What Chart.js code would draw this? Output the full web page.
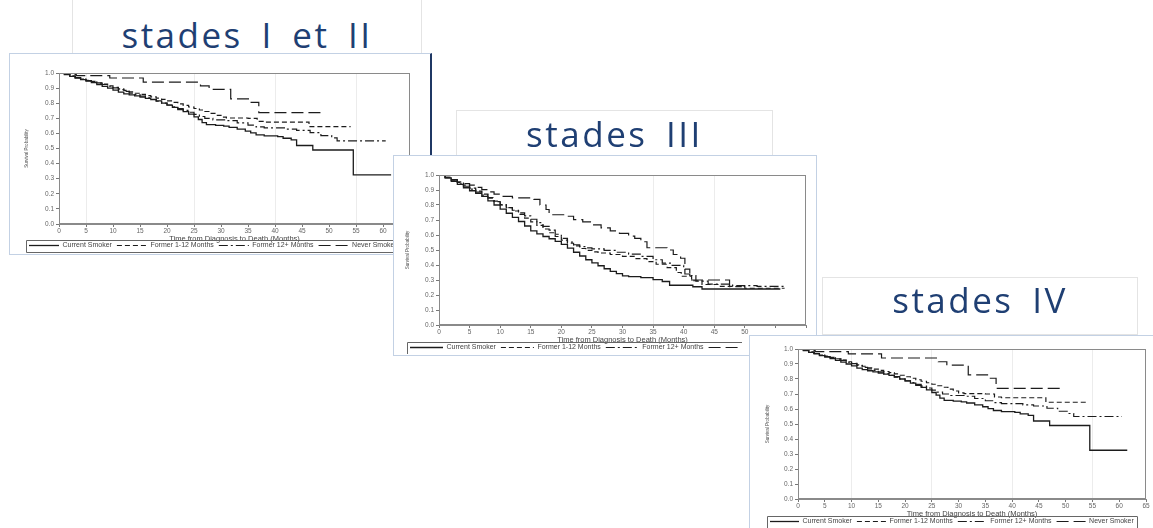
<!DOCTYPE html>
<html>
<head>
<meta charset="utf-8">
<script src="https://cdn.jsdelivr.net/npm/chart.js@4.4.1/dist/chart.umd.min.js"></script>
<style>
  html, body { margin: 0; padding: 0; background: #fff; }
  body { position: relative; width: 1153px; height: 528px; overflow: hidden; }
  .tbox { position: absolute; background: #fff; border: 1px solid #e4e4e4; box-sizing: border-box; }
  .ttl { position: absolute; text-align: center; font-family: "Open Sans", sans-serif; font-size: 35px;
         line-height: 35px; color: #1f3f73; letter-spacing: 2.5px; word-spacing: 7px; white-space: nowrap; }
  .cbox { position: absolute; background: #fff; border: 1px solid #c3d1e4; box-sizing: border-box; }
  canvas { position: absolute; }
</style>
</head>
<body>
<div class="tbox" style="left:72px;top:-2px;width:350px;height:56px"></div>
<div class="ttl" style="left:72px;width:350px;top:17px">stades I et II</div>
<div class="cbox" style="left:9px;top:53px;width:423px;height:202px;border-right:2px solid #1f3864"></div>
<canvas id="c1"></canvas>

<div class="tbox" style="left:456px;top:110px;width:317px;height:46px"></div>
<div class="ttl" style="left:456px;width:317px;top:116px">stades III</div>
<div class="cbox" style="left:393px;top:155px;width:424px;height:201px"></div>
<canvas id="c2"></canvas>

<div class="tbox" style="left:822px;top:277px;width:316px;height:58px"></div>
<div class="ttl" style="left:822px;width:316px;top:282px">stades IV</div>
<div class="cbox" style="left:749px;top:335px;width:410px;height:200px"></div>
<canvas id="c3"></canvas>

<script>
// ---------------- DATA (months, survival probability) ----------------
const seriesLabels = ['Current Smoker', 'Former 1-12 Months', 'Former 12+ Months', 'Never Smoker'];
const yTickValues = [0, 0.1, 0.2, 0.3, 0.4, 0.5, 0.6, 0.7, 0.8, 0.9, 1.0];

// Stades I et II
const stageI_II_current = [[0,1],[1,0.99],[2,0.978],[3,0.967],[4,0.956],[5,0.946],[6,0.936],[7,0.924],[8,0.912],[9,0.9],[10,0.887],[11,0.873],[12,0.862],[13,0.855],[14,0.848],[15,0.84],[16,0.832],[17,0.824],[18,0.815],[19,0.8],[20,0.787],[21,0.772],[22,0.758],[23,0.744],[24,0.728],[25,0.71],[25.8,0.692],[26.5,0.672],[27.3,0.658],[29,0.653],[30.5,0.648],[31.5,0.64],[33,0.628],[34.5,0.615],[35.5,0.603],[36.5,0.59],[38,0.583],[40.5,0.578],[41.5,0.568],[43,0.557],[44,0.52],[47,0.49],[54.5,0.325],[61.5,0.325]];
const stageI_II_former1_12 = [[0,1],[1,0.99],[2,0.98],[3,0.97],[4,0.96],[5,0.952],[6,0.944],[7,0.935],[8,0.926],[9,0.915],[10,0.905],[11,0.895],[12,0.885],[13,0.875],[14,0.866],[15,0.858],[16,0.85],[17,0.842],[18,0.834],[19,0.825],[20,0.815],[21,0.805],[22,0.795],[23,0.785],[24,0.775],[25,0.765],[26,0.755],[27,0.745],[28,0.732],[29,0.72],[30,0.708],[31,0.702],[35,0.7],[36.7,0.68],[38,0.675],[46.3,0.645],[54,0.645]];
const stageI_II_former12plus = [[0,1],[1,0.99],[2,0.98],[3,0.97],[4,0.96],[5,0.95],[6,0.942],[7,0.933],[8,0.924],[9,0.913],[10,0.902],[11,0.89],[12,0.878],[13,0.867],[14,0.857],[15,0.847],[16,0.836],[17,0.825],[18,0.813],[19,0.8],[20,0.788],[21,0.776],[22,0.764],[23,0.752],[24,0.74],[25,0.726],[26,0.712],[27,0.7],[28.5,0.69],[31,0.685],[33,0.67],[35,0.655],[36.5,0.643],[38,0.636],[42,0.628],[44,0.62],[46.5,0.605],[48.5,0.585],[50.5,0.57],[51.5,0.55],[60.5,0.55]];
const stageI_II_never = [[0,1],[1.5,0.99],[3.2,0.982],[9.4,0.967],[15.6,0.94],[26.2,0.915],[27.8,0.892],[31.8,0.828],[35.4,0.805],[37,0.738],[48.9,0.738]];

// Stades III
const stageIII_current = [[0,1],[1,0.98],[2,0.958],[3,0.937],[4,0.915],[5,0.895],[6,0.877],[7,0.857],[8,0.828],[9,0.8],[10,0.772],[11,0.745],[12,0.718],[13,0.69],[14,0.66],[15,0.628],[16,0.607],[17,0.59],[18,0.575],[19,0.558],[20,0.538],[21,0.513],[22,0.485],[23,0.46],[24,0.435],[25,0.414],[26,0.395],[27,0.375],[28,0.358],[29,0.342],[30,0.328],[31,0.322],[33,0.316],[35,0.303],[36.5,0.29],[37.7,0.265],[41.5,0.255],[43,0.24],[55.7,0.235]];
const stageIII_former1_12 = [[0,1],[1,0.985],[2,0.968],[3,0.95],[4,0.932],[5,0.912],[6,0.893],[7,0.873],[8,0.85],[9,0.826],[10,0.803],[11,0.782],[12,0.76],[13,0.737],[14,0.712],[15,0.688],[16,0.664],[17,0.64],[18,0.615],[19,0.59],[20,0.566],[21,0.545],[22,0.527],[23,0.51],[24,0.498],[25,0.488],[26,0.48],[28,0.47],[30,0.458],[32,0.443],[34,0.423],[35.5,0.405],[37.3,0.382],[38.8,0.35],[39.6,0.325],[41.3,0.295],[43,0.27],[46,0.258],[50,0.245],[56.5,0.245]];
const stageIII_former12plus = [[0,1],[1,0.985],[2,0.965],[3,0.945],[4,0.925],[5,0.906],[6,0.886],[7,0.866],[8,0.846],[9,0.823],[10,0.8],[11,0.782],[12,0.765],[13,0.748],[14,0.728],[15,0.705],[16,0.682],[17,0.657],[18,0.632],[19,0.605],[20,0.578],[21,0.553],[22,0.535],[23,0.523],[24,0.514],[25,0.507],[27,0.498],[29,0.485],[31,0.472],[33,0.457],[35,0.435],[36.5,0.413],[38,0.397],[40,0.372],[41,0.33],[42,0.292],[44,0.272],[48,0.262],[52,0.257],[56.5,0.257]];
const stageIII_never = [[0,1],[1,0.985],[2,0.97],[3,0.955],[4,0.943],[5,0.932],[6,0.918],[7,0.903],[8,0.888],[9,0.872],[10,0.857],[12,0.848],[15.5,0.838],[16.5,0.8],[17.5,0.77],[18,0.735],[20.5,0.725],[22,0.702],[23.5,0.687],[25,0.667],[26.5,0.647],[28,0.627],[29.5,0.611],[31,0.592],[32,0.577],[33,0.555],[34,0.515],[37.3,0.5],[38.3,0.47],[39.5,0.445],[40.2,0.34],[41,0.3],[47.5,0.256],[49.5,0.256]];

// Stades IV (the reference shows the same curves as stades I et II)
const stageIV_current = [[0,1],[1,0.99],[2,0.978],[3,0.967],[4,0.956],[5,0.946],[6,0.936],[7,0.924],[8,0.912],[9,0.9],[10,0.887],[11,0.873],[12,0.862],[13,0.855],[14,0.848],[15,0.84],[16,0.832],[17,0.824],[18,0.815],[19,0.8],[20,0.787],[21,0.772],[22,0.758],[23,0.744],[24,0.728],[25,0.71],[25.8,0.692],[26.5,0.672],[27.3,0.658],[29,0.653],[30.5,0.648],[31.5,0.64],[33,0.628],[34.5,0.615],[35.5,0.603],[36.5,0.59],[38,0.583],[40.5,0.578],[41.5,0.568],[43,0.557],[44,0.52],[47,0.49],[54.5,0.325],[61.5,0.325]];
const stageIV_former1_12 = [[0,1],[1,0.99],[2,0.98],[3,0.97],[4,0.96],[5,0.952],[6,0.944],[7,0.935],[8,0.926],[9,0.915],[10,0.905],[11,0.895],[12,0.885],[13,0.875],[14,0.866],[15,0.858],[16,0.85],[17,0.842],[18,0.834],[19,0.825],[20,0.815],[21,0.805],[22,0.795],[23,0.785],[24,0.775],[25,0.765],[26,0.755],[27,0.745],[28,0.732],[29,0.72],[30,0.708],[31,0.702],[35,0.7],[36.7,0.68],[38,0.675],[46.3,0.645],[54,0.645]];
const stageIV_former12plus = [[0,1],[1,0.99],[2,0.98],[3,0.97],[4,0.96],[5,0.95],[6,0.942],[7,0.933],[8,0.924],[9,0.913],[10,0.902],[11,0.89],[12,0.878],[13,0.867],[14,0.857],[15,0.847],[16,0.836],[17,0.825],[18,0.813],[19,0.8],[20,0.788],[21,0.776],[22,0.764],[23,0.752],[24,0.74],[25,0.726],[26,0.712],[27,0.7],[28.5,0.69],[31,0.685],[33,0.67],[35,0.655],[36.5,0.643],[38,0.636],[42,0.628],[44,0.62],[46.5,0.605],[48.5,0.585],[50.5,0.57],[51.5,0.55],[60.5,0.55]];
const stageIV_never = [[0,1],[1.5,0.99],[3.2,0.982],[9.4,0.967],[15.6,0.94],[26.2,0.915],[27.8,0.892],[31.8,0.828],[35.4,0.805],[37,0.738],[48.9,0.738]];

const xTitle = 'Time from Diagnosis to Death (Months)';
const yTitle = 'Survival Probability';

// ---------------- STYLE ----------------
const FONT = '"Liberation Sans", Arial, sans-serif';
Chart.defaults.font.family = FONT;
Chart.defaults.color = '#555';
const lineStyles = [
  { dash: [], w: 1.3 },
  { dash: [5, 3], w: 1.2 },
  { dash: [9, 3, 2, 3], w: 1.2 },
  { dash: [12, 5], w: 1.2 }
];

function makeDatasets(seriesList) {
  return seriesList.map((pts, i) => ({
    label: seriesLabels[i],
    data: pts.map(p => ({ x: p[0], y: p[1] })),
    borderColor: '#1c1c1c',
    backgroundColor: '#1c1c1c',
    borderWidth: lineStyles[i].w,
    borderDash: lineStyles[i].dash,
    stepped: 'before',
    pointRadius: 0,
    fill: false
  }));
}

function legendLabels(chart) {
  const items = Chart.defaults.plugins.legend.labels.generateLabels(chart);
  items.forEach(it => {
    const ds = chart.data.datasets[it.datasetIndex];
    it.lineDash = ds.borderDash;
    it.lineWidth = ds.borderWidth;
    it.strokeStyle = ds.borderColor;
    it.fillStyle = 'rgba(0,0,0,0)';
    it.pointStyle = 'line';
  });
  return items;
}

function makeChart(id, cfg, seriesList) {
  const cv = document.getElementById(id);
  const L = cfg.canvas, P = cfg.plot;
  cv.width = L.w; cv.height = L.h;
  cv.style.left = L.left + 'px'; cv.style.top = L.top + 'px';
  cv.style.width = L.w + 'px'; cv.style.height = L.h + 'px';
  const ca = { l: P.l - L.left, t: P.t - L.top, r: P.r - L.left, b: P.b - L.top };
  const yTitleLH = cfg.yTitleFont * 1.2;
  const padLeft = Math.round(cfg.yTitleX - L.left - yTitleLH / 2);
  const yW = ca.l - padLeft;
  const padRight = L.w - ca.r;
  const lf = cfg.legendFont, lp = cfg.legendPad;
  const legendTop = Math.floor(cfg.legendY - L.top - lp - lf / 2);
  const xH = legendTop - ca.b;
  const legendH = L.h - legendTop;
  const xTitleLH = cfg.xTitleFont * 1.2;
  const xTitlePadBottom = legendTop - xTitleLH / 2 - (cfg.xTitleY - L.top);
  const tickPad = Math.max(0, cfg.tickY - L.top - ca.b - 3 - cfg.tickFont * 0.6);
  const clipX = cfg.legendClip != null ? cfg.legendClip - L.left : null;

  const framePlugin = {
    id: 'frame',
    afterDatasetsDraw(chart) {
      const a = chart.chartArea, c = chart.ctx;
      c.save(); c.strokeStyle = '#8a8a8a'; c.lineWidth = 1;
      c.strokeRect(Math.round(a.left) + 0.5, Math.round(a.top) + 0.5, Math.round(a.right - a.left) - 1, Math.round(a.bottom - a.top) - 1);
      c.restore();
    }
  };
  const legendBoxPlugin = {
    id: 'legendBox',
    afterDraw(chart) {
      const lg = chart.legend, c = chart.ctx;
      if (!lg || !lg.legendHitBoxes || !lg.legendHitBoxes.length) return;
      const hb = lg.legendHitBoxes;
      const top = hb[0].top - 2.5, bottom = hb[0].top + hb[0].height + 2.5;
      const left = hb[0].left - 3.5;
      let right = hb[hb.length - 1].left + hb[hb.length - 1].width + 3.5;
      c.save();
      if (clipX != null) {
        c.fillStyle = '#fff';
        c.fillRect(clipX, top - 2, chart.width - clipX, bottom - top + 4);
        right = clipX;
      }
      c.strokeStyle = '#666'; c.lineWidth = 1;
      c.beginPath();
      c.moveTo(right, Math.round(top) + 0.5); c.lineTo(Math.round(left) + 0.5, Math.round(top) + 0.5);
      c.lineTo(Math.round(left) + 0.5, Math.round(bottom) + 0.5); c.lineTo(right, Math.round(bottom) + 0.5);
      if (clipX == null) { c.moveTo(Math.round(right) + 0.5, Math.round(top) + 0.5); c.lineTo(Math.round(right) + 0.5, Math.round(bottom) + 0.5); }
      c.stroke();
      c.restore();
    }
  };

  return new Chart(cv, {
    type: 'line',
    data: { datasets: makeDatasets(seriesList) },
    options: {
      responsive: false,
      animation: false,
      devicePixelRatio: 1,
      layout: { padding: { left: padLeft, right: padRight, top: ca.t, bottom: 0 } },
      plugins: {
        tooltip: { enabled: false },
        legend: {
          position: 'bottom',
          align: 'start',
          maxHeight: legendH,
          labels: {
            usePointStyle: true,
            pointStyle: 'line',
            pointStyleWidth: cfg.legendLine,
            boxHeight: lf,
            padding: lp,
            color: '#444',
            font: { size: lf, family: FONT },
            generateLabels: legendLabels
          }
        }
      },
      scales: {
        x: {
          type: 'linear',
          min: 0, max: cfg.xMax,
          afterFit(s) { s.height = xH; },
          border: { color: '#8a8a8a' },
          grid: {
            drawOnChartArea: true,
            tickLength: 3,
            tickColor: '#777',
            color: (ctx) => (ctx.tick && cfg.faintGrid.includes(ctx.tick.value)) ? '#ececec' : 'rgba(0,0,0,0)'
          },
          ticks: {
            stepSize: 5, autoSkip: false, maxRotation: 0, padding: tickPad,
            color: '#666', font: { size: cfg.tickFont },
            callback: (v) => (v <= cfg.xLabelMax ? String(v) : '')
          },
          title: {
            display: true, text: xTitle, color: '#444',
            font: { size: cfg.xTitleFont },
            padding: { top: 0, bottom: xTitlePadBottom }
          }
        },
        y: {
          min: 0, max: 1,
          afterFit(s) { s.width = yW; },
          afterBuildTicks(s) { s.ticks = yTickValues.map(v => ({ value: v })); },
          border: { color: '#8a8a8a' },
          grid: { drawOnChartArea: false, tickLength: 3, tickColor: '#777' },
          ticks: {
            padding: 2, color: '#666', font: { size: cfg.tickFont },
            callback: (v) => Number(v).toFixed(1)
          },
          title: {
            display: true, text: yTitle, color: '#555',
            font: { size: cfg.yTitleFont },
            padding: { top: 0, bottom: 0 }
          }
        }
      }
    },
    plugins: [framePlugin, legendBoxPlugin]
  });
}

makeChart('c1', {
  canvas: { left: 10, top: 55, w: 420, h: 198 },
  plot: { l: 59, t: 73, r: 410, b: 224 },
  xMax: 65, xLabelMax: 65,
  yTitleX: 27, yTitleFont: 4.5,
  tickY: 231, tickFont: 6.5,
  xTitleY: 239, xTitleFont: 7.5,
  legendY: 246, legendFont: 7, legendPad: 5, legendLine: 30, legendClip: null,
  faintGrid: [5, 25, 40, 55]
}, [stageI_II_current, stageI_II_former1_12, stageI_II_former12plus, stageI_II_never]);

makeChart('c2', {
  canvas: { left: 393, top: 156, w: 423, h: 198 },
  plot: { l: 439, t: 175, r: 806, b: 325 },
  xMax: 60, xLabelMax: 50,
  yTitleX: 408, yTitleFont: 4.5,
  tickY: 332, tickFont: 6.5,
  xTitleY: 340, xTitleFont: 7.5,
  legendY: 348, legendFont: 7, legendPad: 5, legendLine: 33, legendClip: 742,
  faintGrid: [35, 45]
}, [stageIII_current, stageIII_former1_12, stageIII_former12plus, stageIII_never]);

makeChart('c3', {
  canvas: { left: 750, top: 335, w: 403, h: 193 },
  plot: { l: 798, t: 349, r: 1146, b: 499 },
  xMax: 65, xLabelMax: 65,
  yTitleX: 768, yTitleFont: 4.5,
  tickY: 506.5, tickFont: 6.5,
  xTitleY: 514, xTitleFont: 7.5,
  legendY: 521.5, legendFont: 7, legendPad: 5, legendLine: 29, legendClip: null,
  faintGrid: [10, 25, 40, 55]
}, [stageIV_current, stageIV_former1_12, stageIV_former12plus, stageIV_never]);
</script>
</body>
</html>
